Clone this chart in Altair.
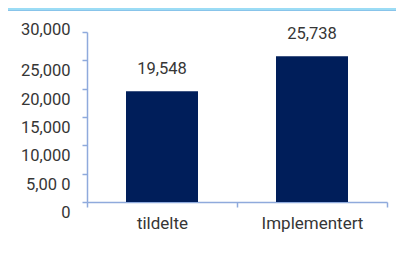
import altair as alt
import pandas as pd

categories = ["tildelte", "Implementert"]
values = [19548, 25738]
value_labels = ["19,548", "25,738"]
y_ticks = [0, 5000, 10000, 15000, 20000, 25000, 30000]
y_tick_labels = ["0", "5,00 0", "10,000", "15,000", "20,000", "25,000", "30,000"]

df = pd.DataFrame({"cat": categories, "val": values, "lab": value_labels})

axis_color = "#8FAADC"
font = "Roboto"
text_color = "#363636"

label_map = "{" + ",".join(f"'{v}':'{l}'" for v, l in zip(y_ticks, y_tick_labels)) + "}"

x = alt.X("cat:N", sort=categories, title=None,
          scale=alt.Scale(paddingInner=0, paddingOuter=0),
          axis=alt.Axis(labelAngle=0, tickBand="extent", domainColor=axis_color,
                        tickColor=axis_color, domainWidth=1.5, tickWidth=1.5,
                        tickSize=5, labelPadding=8, labelFont=font, labelFontSize=17,
                        labelColor=text_color, grid=False))
y = alt.Y("val:Q", title=None,
          scale=alt.Scale(domain=[0, 30000], nice=False),
          axis=alt.Axis(values=y_ticks, domainColor=axis_color, tickColor=axis_color,
                        domainWidth=1.5, tickWidth=1.5, tickSize=5, labelPadding=12,
                        labelFont=font, labelFontSize=16.5, labelColor=text_color,
                        labelExpr=f"{label_map}[''+datum.value]",
                        labelOffset=alt.condition("datum.value == 30000", alt.value(-3), alt.value(10.5)),
                        grid=False))

bars = alt.Chart(df).mark_bar(size=72, color="#001E5A").encode(x=x, y=y)
texts = alt.Chart(df).mark_text(dy=-22, font=font, fontSize=16.5, color=text_color,
                                baseline="middle").encode(x=x, y=y, text="lab:N")

# decorative top frame band (light blue) above the white panel
band = alt.Chart(df).mark_rect(color="#9BDCF5").encode(
    x=alt.value(-79), x2=alt.value(330), y=alt.value(-24), y2=alt.value(-22))
band_line = alt.Chart(df).mark_rule(color="#88C4EA", strokeWidth=1).encode(
    x=alt.value(-79), x2=alt.value(330), y=alt.value(-21.5))

chart = (band + band_line + bars + texts).properties(
    width=300, height=170,
    padding={"left": 79, "top": 24, "right": 9, "bottom": 49},
    autosize=alt.AutoSizeParams(type="none"),
    background="white",
).configure_view(stroke=None)

chart.save("out.html", embed_options={"renderer": "svg", "actions": False})
